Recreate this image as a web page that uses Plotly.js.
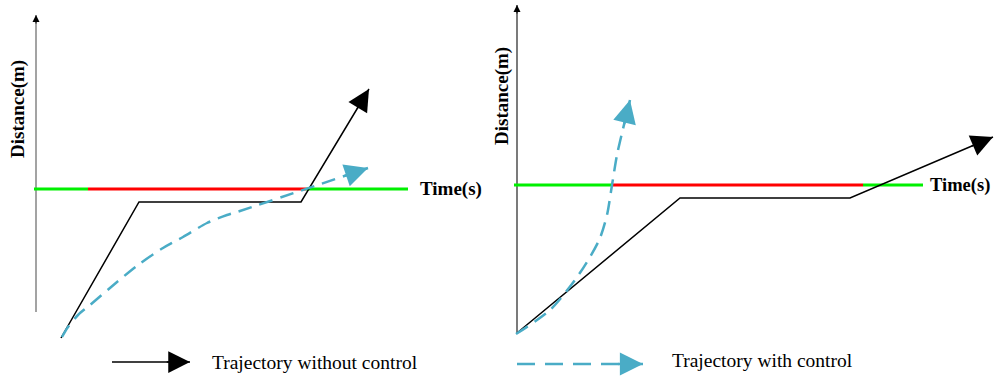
<!DOCTYPE html>
<html>
<head>
<meta charset="utf-8">
<script src="https://cdn.plot.ly/plotly-3.0.1.min.js"></script>
<style>html,body{margin:0;padding:0;background:#fff;}#chart{width:994px;height:376px;}</style>
</head>
<body>
<div id="chart"></div>
<script>
// ---- Left panel: trajectory without control ----
const leftAxisX = [36, 36];
const leftAxisY = [312, 15];
const leftLimitX = [34, 88, 306, 408];     // green | red | green breakpoints
const leftLimitY = 189;
const leftNoCtrlT = [61, 139, 301, 369];
const leftNoCtrlD = [338, 202, 202, 89];
const leftCtrlT = [62, 68, 78, 90, 117, 138, 163, 183, 207, 227, 240, 368];
const leftCtrlD = [337, 327, 315, 305, 282, 265, 248, 237, 223, 215, 211, 168];

// ---- Right panel: trajectory with control ----
const rightAxisX = [517, 517];
const rightAxisY = [333, 5];
const rightLimitX = [514, 612, 863, 923];
const rightLimitY = 185;
const rightNoCtrlT = [517, 680, 850, 993];
const rightNoCtrlD = [333, 198, 198, 137];
const rightCtrlT = [516, 550, 575, 590, 600, 607, 612, 617, 622, 630];
const rightCtrlD = [334, 310, 280, 257, 238, 215, 185, 155, 133, 100];

// ---- Legend keys ----
const legendBlackX = [112, 190];
const legendBlackY = [362, 362];
const legendBlueX = [517, 643];
const legendBlueY = [364, 364];
const legendLabels = ["Trajectory without control", "Trajectory with control"];
const legendLabelX = [210, 670];
const legendLabelY = [362, 360];

const xLabel = "Time(s)";
const yLabel = "Distance(m)";

const GREEN = "#00f000", RED = "#ff0000", BLUE = "#4aacc6", BLACK = "#000000";
const DASH = "14px,8px";

const traces = [];
function line(x, y, color, width, dash, shape) {
  traces.push({x: x, y: y, mode: "lines", hoverinfo: "skip",
    line: {color: color, width: width, dash: dash || "solid", shape: shape || "linear", smoothing: 0.8}});
}
function limitLine(xs, yv) {
  const cols = [GREEN, RED, GREEN];
  for (let i = 0; i < xs.length - 1; i++) line([xs[i], xs[i+1]], [yv, yv], cols[i], 3);
}

line(leftAxisX, leftAxisY, "#666666", 1.2);
line(rightAxisX, rightAxisY, "#222222", 1.2);
limitLine(leftLimitX, leftLimitY);
limitLine(rightLimitX, rightLimitY);
line(leftNoCtrlT, leftNoCtrlD, BLACK, 1.5);
line(rightNoCtrlT, rightNoCtrlD, BLACK, 1.5);
line(leftCtrlT, leftCtrlD, BLUE, 2.5, DASH, "spline");
line(rightCtrlT, rightCtrlD, BLUE, 2.5, DASH, "spline");
line(legendBlackX, legendBlackY, BLACK, 1.5);
line(legendBlueX, legendBlueY, BLUE, 2.5, "18px,10px");

const ann = [];
// arrowhead only: a short annotation arrow along the direction of the last segment,
// its tail sitting at the base of the head so no extra solid line shows
function head(xs, ys, color, width, size) {
  const n = xs.length;
  const dx = xs[n-1] - xs[n-2], dy = ys[n-1] - ys[n-2];
  const len = Math.sqrt(dx*dx + dy*dy);
  const back = 5 * width * size + 2;
  ann.push({x: xs[n-1], y: ys[n-1], ax: xs[n-1] - dx/len*back, ay: ys[n-1] - dy/len*back,
    xref: "x", yref: "y", axref: "x", ayref: "y",
    text: "", font: {size: 1}, borderpad: 0, showarrow: true, arrowhead: 2,
    arrowcolor: color, arrowwidth: width, arrowsize: size, standoff: 0});
}
head(leftAxisX, leftAxisY, BLACK, 1, 1.4);
head(rightAxisX, rightAxisY, BLACK, 1, 1.4);
head(leftNoCtrlT, leftNoCtrlD, BLACK, 1.5, 2.9);
head(rightNoCtrlT, rightNoCtrlD, BLACK, 1.5, 2.9);
head(leftCtrlT, leftCtrlD, BLUE, 2.5, 1.85);
head(rightCtrlT, rightCtrlD, BLUE, 2.5, 1.85);
head(legendBlackX, legendBlackY, BLACK, 1.5, 2.9);
head(legendBlueX, legendBlueY, BLUE, 2.5, 1.85);

const serif = "Liberation Serif";
function label(txt, x, y, opts) {
  ann.push(Object.assign({x: x, y: y, xref: "x", yref: "y", text: txt, showarrow: false,
    font: {family: serif, size: 19, color: "#000"}}, opts));
}
label("<b>" + xLabel + "</b>", leftLimitX[3] + 10, leftLimitY, {xanchor: "left", yanchor: "middle"});
label("<b>" + xLabel + "</b>", 992, rightLimitY, {xanchor: "right", yanchor: "middle",
  font: {family: serif, size: 18.5, color: "#000"}});
label("<b>" + yLabel + "</b>", 18, 109, {textangle: -90, xanchor: "center", yanchor: "middle"});
label("<b>" + yLabel + "</b>", 502, 96, {textangle: -90, xanchor: "center", yanchor: "middle"});
for (let i = 0; i < legendLabels.length; i++) {
  label(legendLabels[i], legendLabelX[i], legendLabelY[i], {xanchor: "left", yanchor: "middle",
    font: {family: serif, size: 19.5, color: "#000"}});
}

const layout = {
  width: 994, height: 376,
  margin: {l: 0, r: 0, t: 0, b: 0},
  paper_bgcolor: "#fff", plot_bgcolor: "#fff",
  showlegend: false,
  xaxis: {range: [0, 994], visible: false, fixedrange: true},
  yaxis: {range: [376, 0], visible: false, fixedrange: true},
  annotations: ann
};
Plotly.newPlot("chart", traces, layout, {staticPlot: true});
</script>
</body>
</html>
